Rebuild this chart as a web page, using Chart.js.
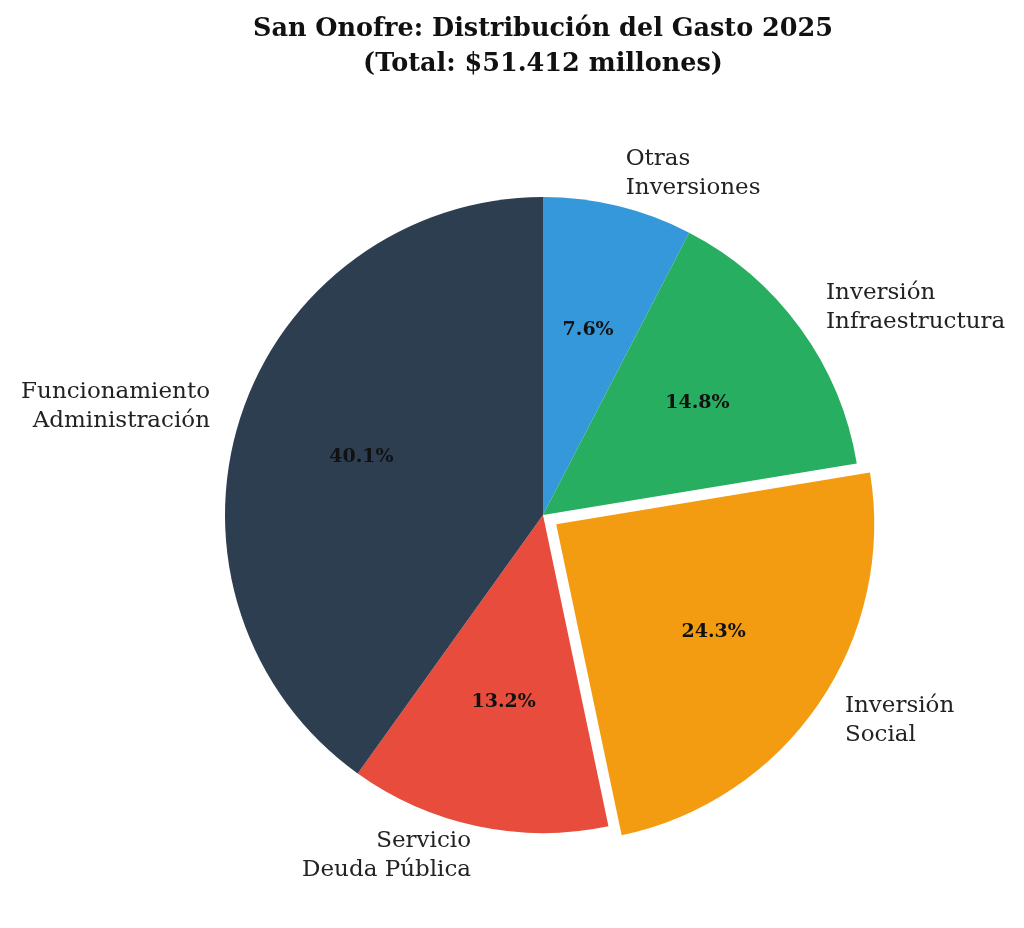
<!DOCTYPE html>
<html>
<head>
<meta charset="utf-8">
<script src="https://cdn.jsdelivr.net/npm/chart.js@4.4.1/dist/chart.umd.min.js"></script>
<style>
html,body{margin:0;padding:0;background:#fff;}
#wrap{width:1024px;height:928px;position:relative;}
</style>
</head>
<body>
<div id="wrap"><canvas id="c" width="1024" height="928"></canvas></div>
<script>
// Data (Chart.js draws clockwise from top; reference goes counter-clockwise,
// so the categories are listed in clockwise order starting at the top)
const categories = ["Otras\nInversiones", "Inversión\nInfraestructura", "Inversión\nSocial", "Servicio\nDeuda Pública", "Funcionamiento\nAdministración"];
const shares = [7.6, 14.8, 24.3, 13.2, 40.1];
const colors = ["#3498db", "#27ae60", "#f39c12", "#e74c3c", "#2c3e50"];
const explode = [0, 0, 1, 0, 0];
const titleLines = ["San Onofre: Distribución del Gasto 2025", "(Total: $51.412 millones)"];

const FONT = "'DejaVu Serif', 'Liberation Serif', serif";
const RADIUS = 318;
const EXPLODE_PX = 16;

const labelPlugin = {
  id: 'pieLabels',
  afterDatasetsDraw(chart) {
    const ctx = chart.ctx;
    const meta = chart.getDatasetMeta(0);
    const data = chart.data.datasets[0].data;
    const total = data.reduce((a, b) => a + b, 0);
    meta.data.forEach((arc, i) => {
      const p = arc.getProps(['x', 'y', 'startAngle', 'endAngle', 'outerRadius'], true);
      const mid = (p.startAngle + p.endAngle) / 2;
      const shift = explode[i] ? EXPLODE_PX : 0;
      const r = p.outerRadius;
      const cx = p.x + Math.cos(mid) * shift;
      const cy = p.y + Math.sin(mid) * shift;
      // percentage
      ctx.save();
      ctx.font = "bold 19px " + FONT;
      ctx.fillStyle = "#111";
      ctx.textAlign = "center";
      ctx.textBaseline = "middle";
      ctx.fillText((data[i] / total * 100).toFixed(1) + "%", cx + Math.cos(mid) * r * 0.6, cy + Math.sin(mid) * r * 0.6);
      // outer label
      const lx = cx + Math.cos(mid) * r * 1.1;
      const ly = cy + Math.sin(mid) * r * 1.1 - 1.5;
      ctx.font = "23px " + FONT;
      ctx.fillStyle = "#222";
      ctx.textAlign = Math.cos(mid) >= 0 ? "left" : "right";
      const lines = chart.data.labels[i].split("\n");
      const lh = 29;
      const y0 = ly - (lines.length - 1) * lh / 2;
      lines.forEach((t, k) => ctx.fillText(t, lx, y0 + k * lh));
      ctx.restore();
    });
  }
};

new Chart(document.getElementById('c'), {
  type: 'pie',
  data: {
    labels: categories,
    datasets: [{
      data: shares,
      backgroundColor: colors,
      borderWidth: 0,
      offset: explode.map(e => e * EXPLODE_PX * 4),
      hoverOffset: 0
    }]
  },
  options: {
    responsive: false,
    animation: false,
    devicePixelRatio: 1,
    radius: RADIUS,
    layout: { padding: { left: 62, right: 0, top: 0, bottom: 0 } },
    events: [],
    plugins: {
      legend: { display: false },
      tooltip: { enabled: false },
      title: {
        display: true,
        text: titleLines,
        color: "#111",
        font: { family: FONT, size: 25.5, weight: 'bold', lineHeight: 35.1 / 25.5 },
        padding: { top: 12, bottom: 20 }
      }
    }
  },
  plugins: [labelPlugin]
});
</script>
</body>
</html>
